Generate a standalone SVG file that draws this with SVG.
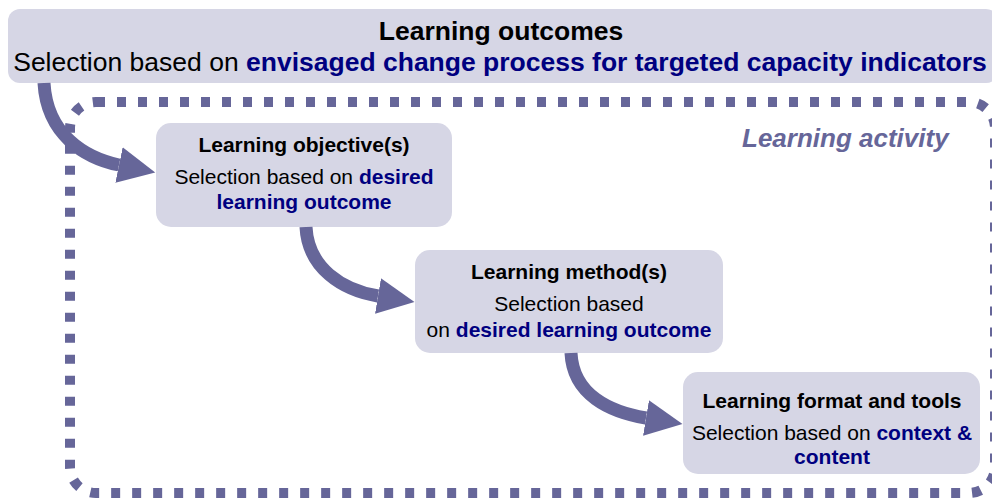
<svg xmlns="http://www.w3.org/2000/svg" width="992" height="498" viewBox="0 0 992 498">
<defs>
<style>
.box{fill:#d6d6e5;}
.t{font-family:"Liberation Sans",Arial,sans-serif;text-anchor:middle;fill:#000;}
.b{font-weight:bold;}
.hl{font-weight:bold;fill:#000080;}
.n{font-size:21px;}
.big{font-size:26.5px;}
.arrow{fill:none;stroke:#666699;stroke-width:13;}
.frame{fill:none;stroke:#666699;stroke-width:10;stroke-dasharray:9 12;}
</style>
<marker id="head" markerUnits="userSpaceOnUse" markerWidth="40" markerHeight="40" refX="0" refY="20" orient="auto" viewBox="0 0 40 40">
<path d="M0,2 L37,20 L0,38 Z" fill="#666699"/>
</marker>
</defs>
<rect fill="#fff" width="992" height="498"/>
<g id="activity-frame">
<rect class="frame" x="70" y="102" width="925" height="391" rx="26" ry="26"/>
<text x="742" y="147" style="font-family:'Liberation Sans',Arial,sans-serif;font-size:26px;font-weight:bold;font-style:italic;fill:#666699">Learning activity</text>
</g>
<g id="learning-outcomes">
<rect class="box" x="8" y="9" width="990" height="74" rx="12" ry="12"/>
<text class="t big b" x="501" y="40">Learning outcomes</text>
<text class="t big" x="500" y="71">Selection based on <tspan class="hl">envisaged change process for targeted capacity indicators</tspan></text>
</g>
<g id="learning-objectives">
<rect class="box" x="156" y="123" width="296" height="104" rx="15" ry="15"/>
<text class="t n b" x="304" y="152">Learning objective(s)</text>
<text class="t n" x="304" y="184">Selection based on <tspan class="hl">desired</tspan></text>
<text class="t n hl" x="304" y="209">learning outcome</text>
</g>
<g id="learning-methods">
<rect class="box" x="415" y="250" width="308" height="103" rx="15" ry="15"/>
<text class="t n b" x="569" y="279">Learning method(s)</text>
<text class="t n" x="569" y="311">Selection based</text>
<text class="t n" x="569" y="337">on <tspan class="hl">desired learning outcome</tspan></text>
</g>
<g id="learning-format">
<rect class="box" x="683" y="372" width="297" height="102" rx="15" ry="15"/>
<text class="t n b" x="832" y="408">Learning format and tools</text>
<text class="t n" x="832" y="440">Selection based on <tspan class="hl">context &amp;</tspan></text>
<text class="t n hl" x="832" y="464">content</text>
</g>
<g id="connectors">
<path class="arrow" d="M44,83 C47,135 85,158 119,165" marker-end="url(#head)"/>
<path class="arrow" d="M306,227 C308,268 342,290 378,296" marker-end="url(#head)"/>
<path class="arrow" d="M571,353 C573,395 610,412 646,418" marker-end="url(#head)"/>
</g>
</svg>
